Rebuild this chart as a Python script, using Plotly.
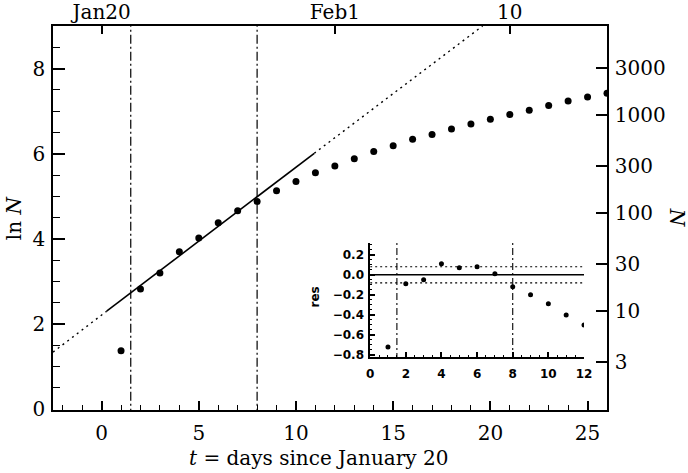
import plotly.graph_objects as go
import numpy as np

# days since January 20 and ln of cumulative count
t_days = list(range(1, 27))
ln_n = [1.37, 2.82, 3.20, 3.70, 4.02, 4.38, 4.66, 4.88, 5.13, 5.35, 5.55, 5.71,
        5.88, 6.05, 6.19, 6.34, 6.45, 6.58, 6.70, 6.81, 6.92, 7.02, 7.13, 7.24,
        7.33, 7.42]

# exponential fit line: solid over fit window, dotted outside
fit_t = [-2.5, 0.26, 10.94, 19.6]
fit_ln = [1.34, 2.30, 6.01, 9.0]

# residuals of the first 12 days
res_t = list(range(1, 13))
res_val = [-0.72, -0.09, -0.05, 0.11, 0.07, 0.08, 0.01, -0.12, -0.20, -0.29,
           -0.40, -0.50]
res_band = 0.08

window_edges = [1.5, 8.0]

top_ticks = [0, 12, 21]
top_labels = ["Jan20", "Feb1", "10"]
n_ticks = [3, 10, 30, 100, 300, 1000, 3000]

SERIF = "DejaVu Serif"
SANS = "DejaVu Sans"
BLACK = "black"

fig = go.Figure()

for x0 in window_edges:
    fig.add_trace(go.Scatter(x=[x0, x0], y=[-1, 10], mode="lines",
                             line=dict(color=BLACK, width=1.2, dash="9px,3px,2px,3px"),
                             xaxis="x", yaxis="y", hoverinfo="skip"))

fig.add_trace(go.Scatter(x=fit_t[:2], y=fit_ln[:2], mode="lines",
                         line=dict(color=BLACK, width=1.4, dash="2px,4px"),
                         xaxis="x", yaxis="y"))
fig.add_trace(go.Scatter(x=fit_t[1:3], y=fit_ln[1:3], mode="lines",
                         line=dict(color=BLACK, width=1.6),
                         xaxis="x", yaxis="y"))
fig.add_trace(go.Scatter(x=fit_t[2:], y=fit_ln[2:], mode="lines",
                         line=dict(color=BLACK, width=1.4, dash="2px,4px"),
                         xaxis="x", yaxis="y"))

fig.add_trace(go.Scatter(x=t_days, y=ln_n, mode="markers",
                         marker=dict(color=BLACK, size=7),
                         xaxis="x", yaxis="y"))

# right-hand N axis and top date axis carry no data, just an invisible anchor
fig.add_trace(go.Scatter(x=[0], y=[0], mode="markers", marker=dict(opacity=0),
                         xaxis="x2", yaxis="y2", hoverinfo="skip"))

# inset residuals
for x0 in window_edges:
    fig.add_trace(go.Scatter(x=[x0, x0], y=[-1, 1], mode="lines",
                             line=dict(color=BLACK, width=1.1, dash="7px,3px,2px,3px"),
                             xaxis="x3", yaxis="y3", hoverinfo="skip"))
fig.add_trace(go.Scatter(x=[0, 12], y=[0, 0], mode="lines",
                         line=dict(color=BLACK, width=1.4), xaxis="x3", yaxis="y3"))
for b in (res_band, -res_band):
    fig.add_trace(go.Scatter(x=[0, 12], y=[b, b], mode="lines",
                             line=dict(color=BLACK, width=1.2, dash="2px,3px"),
                             xaxis="x3", yaxis="y3"))
fig.add_trace(go.Scatter(x=res_t, y=res_val, mode="markers",
                         marker=dict(color=BLACK, size=5),
                         xaxis="x3", yaxis="y3"))

main_font = dict(family=SERIF, size=20, color=BLACK)
inset_font = dict(family=SANS, size=12, color=BLACK, weight="bold")
axis_common = dict(showline=True, linecolor=BLACK, linewidth=1.5, showgrid=False,
                   zeroline=False, ticks="inside", tickcolor=BLACK, tickwidth=1.5,
                   automargin=False)

fig.update_layout(
    width=688, height=473,
    margin=dict(l=53, r=81, t=26, b=63),
    paper_bgcolor="white", plot_bgcolor="white",
    showlegend=False,
    font=main_font,
    xaxis=dict(**axis_common, domain=[0, 1], anchor="y", range=[-2.5, 26],
               tick0=0, dtick=5, ticklen=9, tickfont=main_font,
               ticklabelstandoff=4,
               minor=dict(ticks="inside", dtick=1, ticklen=5, tickcolor=BLACK,
                          tickwidth=1.3)),
    xaxis2=dict(**axis_common, overlaying="x", side="top", anchor="y",
                range=[-2.5, 26], tickvals=top_ticks, ticktext=top_labels,
                ticklen=8, tickfont=main_font, ticklabelstandoff=-3),
    yaxis=dict(**axis_common, domain=[0, 1], anchor="x", range=[-0.02, 9],
               tick0=0, dtick=2, ticklen=12, tickfont=main_font,
               ticklabelstandoff=2,
               minor=dict(ticks="inside", dtick=0.5, ticklen=7, tickcolor=BLACK,
                          tickwidth=1.3)),
    yaxis2=dict(**axis_common, overlaying="y", side="right", anchor="x",
                range=[-0.02, 9], tickvals=list(np.log(n_ticks)),
                ticktext=[str(n) for n in n_ticks], ticklen=11,
                tickfont=main_font, ticklabelstandoff=2),
    xaxis3=dict(**axis_common, domain=[0.5725, 0.9585], anchor="y3",
                range=[0, 12], tick0=0, dtick=2, ticklen=5, tickfont=inset_font,
                ticklabelstandoff=5,
                minor=dict(ticks="inside", dtick=0.5, ticklen=2.5, tickcolor=BLACK,
                           tickwidth=1)),
    yaxis3=dict(**axis_common, domain=[0.138, 0.4357], anchor="x3",
                range=[-0.82, 0.32], tick0=0, dtick=0.2, tickformat=".1f",
                ticklen=5, tickfont=inset_font, ticklabelstandoff=2,
                minor=dict(ticks="inside", dtick=0.05, ticklen=2.5,
                           tickcolor=BLACK, tickwidth=1)),
)

fig.add_annotation(text="ln <i>N</i>", xref="paper", yref="paper",
                   x=-0.07, y=0.5, xanchor="center", yanchor="middle",
                   textangle=-90, showarrow=False, font=main_font)
fig.add_annotation(text="<i>N</i>", xref="paper", yref="paper",
                   x=1.127, y=0.5, xanchor="center", yanchor="middle",
                   textangle=90, showarrow=False, font=main_font)
fig.add_annotation(text="<i>t</i> = days since January 20", xref="paper",
                   yref="paper", x=0.48, y=-0.125, xanchor="center",
                   yanchor="middle", showarrow=False, font=main_font)
fig.add_annotation(text="res", xref="paper", yref="paper",
                   x=0.473, y=0.293, xanchor="center", yanchor="middle",
                   textangle=-90, showarrow=False, font=inset_font)

# drop the browser's default 8px body margin so the figure sits at the corner
fig.write_html("out.html", config={"displayModeBar": False},
               post_script="document.body.style.margin='0px';")
